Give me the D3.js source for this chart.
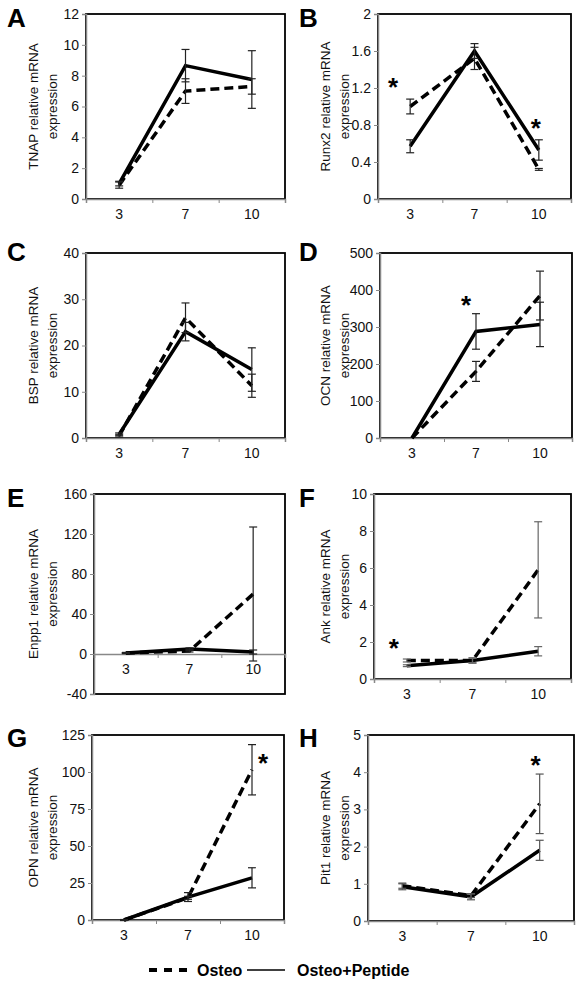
<!DOCTYPE html>
<html><head><meta charset="utf-8">
<script src="https://cdn.jsdelivr.net/npm/d3@7"></script>
<style>body{margin:0;background:#fff} svg{display:block;font-family:Arial,"Liberation Sans",sans-serif}</style>
</head><body><svg id="c" width="583" height="981"></svg>
<script>
// ---- data ----
const days = ["3", "7", "10"];
const genes = ["TNAP", "Runx2", "BSP", "OCN", "Enpp1", "Ank", "OPN", "Pit1"];
const panelLetters = ["A", "B", "C", "D", "E", "F", "G", "H"];
const seriesNames = ["Osteo", "Osteo+Peptide"];
const osteo      = [[0.9,7.0,7.3],[1.0,1.52,0.32],[0.5,26,11.3],[0,180,385],[1,3,60],[1.0,1.0,5.9],[0,15,101.5],[0.95,0.68,3.15]];
const osteoErr   = [[0.2,0.8,0.5],[0.08,0.12,0.01],[0.3,3.2,2.5],[0,27,66],[0.5,1,67],[0.08,0.12,2.6],[0.3,1,17],[0.07,0.05,0.8]];
const peptide    = [[1.0,8.65,7.75],[0.57,1.6,0.53],[0.8,23,14.8],[0,288,307],[1,5,2],[0.72,1.0,1.5],[0,15.5,28.5],[0.92,0.65,1.9]];
const peptideErr = [[0.15,1.05,1.87],[0.07,0.08,0.11],[0.3,2,4.7],[0,48,60],[0.5,1,2],[0.05,0.15,0.25],[0.3,3,6.8],[0.08,0.08,0.27]];
const yMin  = [0, 0, 0, 0, -40, 0, 0, 0];
const yMax  = [12, 2, 40, 500, 160, 10, 125, 5];
const yStep = [2, 0.4, 10, 100, 40, 2, 25, 1];
// significance stars
const starPanel = [1, 1, 3, 5, 6, 7];
const starDay   = ["3", "10", "7", "3", "10", "10"];
const starValue = [1.27, 0.82, 374, 1.94, 110, 4.33];

// ---- layout (positions / styles) ----
const boxes = [[86,14,285,199],[378,14,571,199],[86,253,285,438],[380,253,572,438],
               [94,494,285,694],[374,494,571,679],[92,735,284,920],[368,735,574,921]];
const colX = [0, 292];
const letterBaseline = [27, 27, 261, 261, 507, 507, 747, 747];
const starDx = [-17, -3, -10, -13, 11, -4];
const errColor = ["#222","#222","#222","#222","#222","#666","#222","#555"];

const svg = d3.select("#c");
const fmt = d => String(+(+d).toFixed(3));

genes.forEach((gene, i) => {
  const [l, t, r, b] = boxes[i];
  const cx = colX[i % 2];
  const g = svg.append("g");
  const x = d3.scaleBand().domain(days).range([l, r]);
  const y = d3.scaleLinear().domain([yMin[i], yMax[i]]).range([b, t]);
  const xc = d => x(d) + x.bandwidth() / 2;

  // plot border
  g.append("rect").attr("x", l).attr("y", t).attr("width", r - l).attr("height", b - t)
    .attr("fill", "none").attr("stroke", "#000").attr("stroke-width", 1.8);

  // y axis
  const ticks = d3.range(yMin[i], yMax[i] + yStep[i] / 2, yStep[i]);
  const ya = g.append("g").attr("transform", `translate(${l},0)`)
    .call(d3.axisLeft(y).tickValues(ticks).tickSize(4).tickPadding(3).tickFormat(fmt));
  ya.select(".domain").attr("stroke", "#888").attr("stroke-width", 1.5);
  ya.selectAll(".tick line").attr("stroke", "#888");
  ya.selectAll("text").attr("font-size", 14).attr("fill", "#111").attr("font-family", "Arial, 'Liberation Sans', sans-serif");

  // x axis at zero
  const y0 = y(0);
  const edge = d3.scaleLinear().domain([0, days.length]).range([l, r]);
  const xe = g.append("g").attr("transform", `translate(0,${y0})`)
    .call(d3.axisBottom(edge).tickValues(d3.range(0, days.length + 1)).tickSize(4).tickFormat(""));
  xe.select(".domain").attr("stroke", "#888").attr("stroke-width", 1.5);
  xe.selectAll(".tick line").attr("stroke", "#888");
  const xa = g.append("g").attr("transform", `translate(0,${y0})`)
    .call(d3.axisBottom(x).tickSize(0).tickPadding(10));
  xa.select(".domain").remove();
  xa.selectAll("text").attr("font-size", 14).attr("fill", "#111").attr("font-family", "Arial, 'Liberation Sans', sans-serif");

  // y axis title
  const ym = (t + b) / 2;
  const title = g.append("text").attr("transform", `rotate(-90)`)
    .attr("text-anchor", "middle").attr("font-size", 13.5).attr("fill", "#111");
  title.append("tspan").attr("x", -ym).attr("y", cx + 33).attr("dy", "0.35em").text(gene + " relative mRNA");
  title.append("tspan").attr("x", -ym).attr("y", cx + 52).attr("dy", "0.35em").text("expression");

  // panel letter
  g.append("text").attr("x", cx + 7).attr("y", letterBaseline[i])
    .attr("font-size", 26).attr("font-weight", "bold").attr("fill", "#000").text(panelLetters[i]);

  // series
  const series = [
    {vals: osteo[i], errs: osteoErr[i], dash: "9,5"},
    {vals: peptide[i], errs: peptideErr[i], dash: null}
  ];
  const line = d3.line().x((d, k) => xc(days[k])).y(d => y(d));
  series.forEach(s => {
    g.append("path").datum(s.vals).attr("d", line).attr("fill", "none")
      .attr("stroke", "#000").attr("stroke-width", 3.5)
      .attr("stroke-dasharray", s.dash).attr("stroke-linejoin", "miter");
  });
  series.forEach(s => {
    s.vals.forEach((v, k) => {
      const e = s.errs[k];
      if (!e) return;
      const px = xc(days[k]);
      const eg = g.append("g").attr("stroke", errColor[i]).attr("stroke-width", 1.2);
      eg.append("line").attr("x1", px).attr("x2", px).attr("y1", y(v - e)).attr("y2", y(v + e));
      [v - e, v + e].forEach(w => eg.append("line").attr("x1", px - 4).attr("x2", px + 4).attr("y1", y(w)).attr("y2", y(w)));
    });
  });

  // stars
  starPanel.forEach((p, k) => {
    if (p !== i) return;
    g.append("text").attr("x", xc(starDay[k]) + starDx[k]).attr("y", y(starValue[k]))
      .attr("dy", "0.55em").attr("text-anchor", "middle")
      .attr("font-size", 26).attr("font-weight", "bold").text("*");
  });
});

// legend
const lg = svg.append("g");
lg.append("line").attr("x1", 149).attr("x2", 188).attr("y1", 970).attr("y2", 970)
  .attr("stroke", "#000").attr("stroke-width", 4).attr("stroke-dasharray", "8,7");
lg.append("text").attr("x", 197).attr("y", 976).attr("font-size", 16).attr("font-weight", "bold").text(seriesNames[0]);
lg.append("line").attr("x1", 247).attr("x2", 285).attr("y1", 970).attr("y2", 970)
  .attr("stroke", "#000").attr("stroke-width", 1.5);
lg.append("text").attr("x", 297).attr("y", 976).attr("font-size", 16).attr("font-weight", "bold").text(seriesNames[1]);
</script></body></html>
